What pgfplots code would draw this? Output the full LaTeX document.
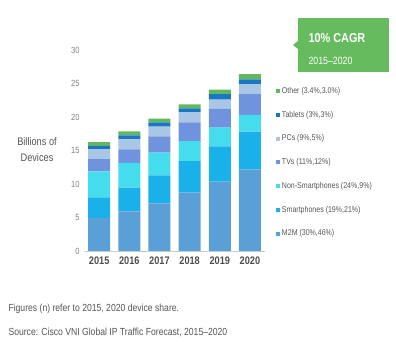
\documentclass[border=0pt]{standalone}
\usepackage{fontspec}
\setmainfont{Liberation Sans}[FakeStretch=0.84]
\usepackage{pgfplots}
\pgfplotsset{compat=1.18}
\usepackage{pgfplotstable}
\definecolor{cM}{HTML}{5AA0D6}
\definecolor{cS}{HTML}{1AB0EA}
\definecolor{cN}{HTML}{45DCEE}
\definecolor{cT}{HTML}{6F93DC}
\definecolor{cP}{HTML}{A9C6E6}
\definecolor{cTab}{HTML}{1A78C2}
\definecolor{cO}{HTML}{62B85E}
\definecolor{cbox}{HTML}{66BB5F}
\definecolor{txt}{HTML}{555555}
\pgfplotstableread{
x M2M Smart NonSmart TVs PCs Tablets Other
0 4.9  3.1  3.9 1.8 1.5  0.5  0.55
1 5.9  3.55 3.7 2.0 1.5  0.6  0.6
2 7.1  4.2  3.4 2.4 1.45 0.65 0.55
3 8.75 4.65 3.0 2.8 1.5  0.6  0.6
4 10.35 5.25 2.8 2.8 1.4 0.8  0.7
5 12.2 5.6  2.5 3.1 1.5  0.7  0.8
}\data
\begin{document}
\begin{tikzpicture}[x=1bp,y=1bp]
\useasboundingbox (0,0) rectangle (396,364);
\begin{axis}[
  at={(85bp,113bp)}, anchor=south west,
  scale only axis, width=180bp, height=201bp,
  ymin=0, ymax=30, xmin=-0.47, xmax=5.5,
  ybar stacked, bar width=22bp,
  axis line style={draw=none},
  axis x line*=bottom,
  x axis line style={draw=gray!40, line width=0.8pt},
  ytick={0,5,...,30},
  xtick={0,...,5},
  xticklabels={2015,2016,2017,2018,2019,2020},
  x tick label style={font=\fontsize{11}{12}\selectfont\bfseries, text=txt!90!black, yshift=-2bp},
  y tick label style={font=\fontsize{9}{10}\selectfont, text=gray, xshift=-2bp},
  /pgf/number format/assume math mode=true,
  major tick length=0pt,
  tick style={draw=none},
  legend style={at={(1.06,0.825)}, anchor=north west, draw=none, fill=none,
    font=\fontsize{8.4}{9}\selectfont, text=txt, row sep=12.2bp, inner sep=0pt,
    legend cell align=left},
  legend image code/.code={\fill[#1] (0bp,-2bp) rectangle (4bp,2bp);},
  reverse legend,
]
\addplot[fill=cM, draw=none] table[x=x,y=M2M]{\data};
\addlegendentry{M2M (30\%,46\%)}
\addplot[fill=cS, draw=none] table[x=x,y=Smart]{\data};
\addlegendentry{Smartphones (19\%,21\%)}
\addplot[fill=cN, draw=none] table[x=x,y=NonSmart]{\data};
\addlegendentry{Non-Smartphones (24\%,9\%)}
\addplot[fill=cT, draw=none] table[x=x,y=TVs]{\data};
\addlegendentry{TVs (11\%,12\%)}
\addplot[fill=cP, draw=none] table[x=x,y=PCs]{\data};
\addlegendentry{PCs (9\%,5\%)}
\addplot[fill=cTab, draw=none] table[x=x,y=Tablets]{\data};
\addlegendentry{Tablets (3\%,3\%)}
\addplot[fill=cO, draw=none] table[x=x,y=Other]{\data};
\addlegendentry{Other (3.4\%,3.0\%)}
\end{axis}
% y label
\node[align=center, text=txt, font=\fontsize{11}{16}\selectfont] at (37,214) {Billions of\\Devices};
% green box
\fill[cbox] (298,292) rectangle (389,346);
\fill[cbox] (298,323) -- (293,319) -- (298,315) -- cycle;
\node[anchor=west, text=white, font=\fontsize{13}{14}\selectfont\bfseries] at (305,326) {10\% CAGR};
\node[anchor=west, text=white, font=\fontsize{10.5}{12}\selectfont] at (305,303) {2015--2020};
% footnotes
\node[anchor=west, text=txt, font=\fontsize{10.3}{12}\selectfont] at (5,55) {Figures (n) refer to 2015, 2020 device share.};
\node[anchor=west, text=txt, font=\fontsize{10.3}{12}\selectfont] at (5,32) {Source: Cisco VNI Global IP Traffic Forecast, 2015--2020};
\end{tikzpicture}
\end{document}
